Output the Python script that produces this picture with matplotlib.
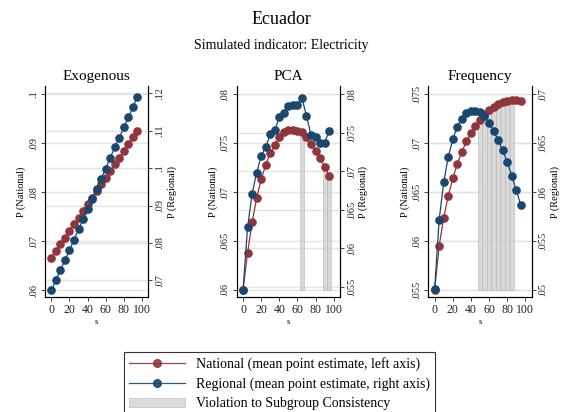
import matplotlib
matplotlib.use("Agg")
import matplotlib.pyplot as plt
from matplotlib.lines import Line2D
from matplotlib.patches import Patch
import numpy as np

plt.rcParams['font.family'] = ['Liberation Serif', 'DejaVu Serif']

# datos
s = [0, 5, 10, 15, 20, 25, 30, 35, 40, 45, 50, 55, 60, 65, 70, 75, 80, 85, 90, 95]

exo_nat = [.0666, .0680, .0694, .0707, .0721, .0735, .0748, .0762, .0776, .0789,
           .0803, .0817, .0830, .0844, .0857, .0871, .0885, .0898, .0912, .0925]
exo_reg = [.0673, .0700, .0727, .0754, .0780, .0809, .0836, .0863, .0891, .0918,
           .0945, .0972, .0999, .1028, .1056, .1082, .1109, .1136, .1163, .1191]

pca_nat = [.0600, .0638, .0669, .0694, .0713, .0728, .0740, .0748, .0756, .0761,
           .0764, .0764, .0763, .0761, .0756, .0749, .0742, .0735, .0726, .0717]
pca_reg = [.0546, .0627, .0671, .0698, .0720, .0731, .0748, .0753, .0770, .0776,
           .0785, .0786, .0786, .0795, .0772, .0747, .0744, .0737, .0737, .0752]
pca_viol = [65, 90, 95]

freq_nat = [.0550, .0595, .0624, .0646, .0664, .0679, .0691, .0702, .0710, .0718,
            .0724, .0730, .0734, .0737, .0740, .0742, .0743, .0744, .0744, .0743]
freq_reg = [.0501, .0572, .0610, .0636, .0654, .0667, .0675, .0681, .0683, .0683,
            .0682, .0678, .0671, .0663, .0653, .0643, .0631, .0617, .0602, .0587]
freq_viol = [50, 55, 60, 65, 70, 75, 80, 85]

RED = '#90353b'
BLUE = '#1a476f'
GRID = '#e4e4e4'

panels = [
    dict(title='Exogenous', nat=exo_nat, reg=exo_reg, viol=[],
         lt=[.06, .07, .08, .09, .1], ll=['.06', '.07', '.08', '.09', '.1'],
         lylim=(.05857, .1017),
         rt=[.07, .08, .09, .1, .11, .12], rl=['.07', '.08', '.09', '.1', '.11', '.12'],
         rylim=(.06545, .1220), x0=45),
    dict(title='PCA', nat=pca_nat, reg=pca_reg, viol=pca_viol,
         lt=[.06, .065, .07, .075, .08], ll=['.06', '.065', '.07', '.075', '.08'],
         lylim=(.05925, .08085),
         rt=[.055, .06, .065, .07, .075, .08], rl=['.055', '.06', '.065', '.07', '.075', '.08'],
         rylim=(.05362, .08108), x0=236.7),
    dict(title='Frequency', nat=freq_nat, reg=freq_reg, viol=freq_viol,
         lt=[.055, .06, .065, .07, .075], ll=['.055', '.06', '.065', '.07', '.075'],
         lylim=(.05425, .07585),
         rt=[.05, .055, .06, .065, .07], rl=['.05', '.055', '.06', '.065', '.07'],
         rylim=(.04925, .07085), x0=428.3),
]

W, H = 562, 412
fig = plt.figure(figsize=(W / 100, H / 100), dpi=100)

fig.text(0.5, 1 - 20 / H, 'Ecuador', ha='center', va='center', fontsize=13)
fig.text(0.5, 1 - 45 / H, 'Simulated indicator: Electricity', ha='center', va='center', fontsize=10)

for p in panels:
    ax = fig.add_axes([p['x0'] / W, 114.7 / H, 103.3 / W, 211.3 / H])
    ax2 = ax.twinx()
    ax.set_xlim(-7, 107)
    ax.set_ylim(*p['lylim'])
    ax2.set_ylim(*p['rylim'])

    # lineas de rejilla de ambos ejes, en el eje izquierdo
    l0, l1 = p['lylim']
    r0, r1 = p['rylim']
    for t in p['lt']:
        ax.axhline(t, color=GRID, lw=1.0, zorder=0)
    for t in p['rt']:
        ax.axhline(l0 + (t - r0) / (r1 - r0) * (l1 - l0), color=GRID, lw=1.0, zorder=0)

    # violaciones
    if p['viol']:
        tops = [p['nat'][s.index(v)] for v in p['viol']]
        base = p['lt'][0]
        ax.bar(p['viol'], np.array(tops) - base, bottom=base, width=4.6,
               color='#d0d0d0', alpha=0.8, edgecolor='#bdbdbd', lw=0.6, zorder=1)

    ax.plot(s, p['nat'], color=RED, lw=0.9, marker='o', ms=5.2, mec=RED, mfc=RED, zorder=3)
    ax2.plot(s, p['reg'], color=BLUE, lw=0.9, marker='o', ms=5.2, mec=BLUE, mfc=BLUE, zorder=3)

    ax.set_xticks([0, 20, 40, 60, 80, 100])
    ax.set_yticks(p['lt'])
    ax.set_yticklabels(p['ll'], rotation=90, va='center')
    ax2.set_yticks(p['rt'])
    ax2.set_yticklabels(p['rl'], rotation=90, va='center')
    for a in (ax, ax2):
        a.tick_params(labelsize=7.5, length=3, width=0.6, pad=2, colors='#222222')
        a.spines['top'].set_visible(False)
        for sp in a.spines.values():
            sp.set_linewidth(0.8)
    ax.tick_params(axis='x', labelsize=8.5)
    ax.set_xlabel('s', fontsize=6, labelpad=1)
    ax.set_ylabel('P (National)', fontsize=7.5, labelpad=2)
    ax2.set_ylabel('P (Regional)', fontsize=7.5, labelpad=2)
    ax.set_title(p['title'], fontsize=11, pad=4)

handles = [
    Line2D([], [], color=RED, lw=0.9, marker='o', ms=5.5, alpha=0.9),
    Line2D([], [], color=BLUE, lw=0.9, marker='o', ms=5.5, alpha=0.9),
    Patch(facecolor='#dcdcdc', edgecolor='#c8c8c8', lw=0.6),
]
labels = ['National (mean point estimate, left axis)',
          'Regional (mean point estimate, right axis)',
          'Violation to Subgroup Consistency']
leg = fig.legend(handles, labels, loc='upper center', bbox_to_anchor=(279.5 / W, 67 / H),
                 fontsize=10, handlelength=4.0, numpoints=1, fancybox=False,
                 edgecolor='#333333', framealpha=1, labelspacing=0.45, borderpad=0.4,
                 handletextpad=0.8)
leg.get_frame().set_linewidth(0.8)

fig.savefig('out.png', dpi=100)
